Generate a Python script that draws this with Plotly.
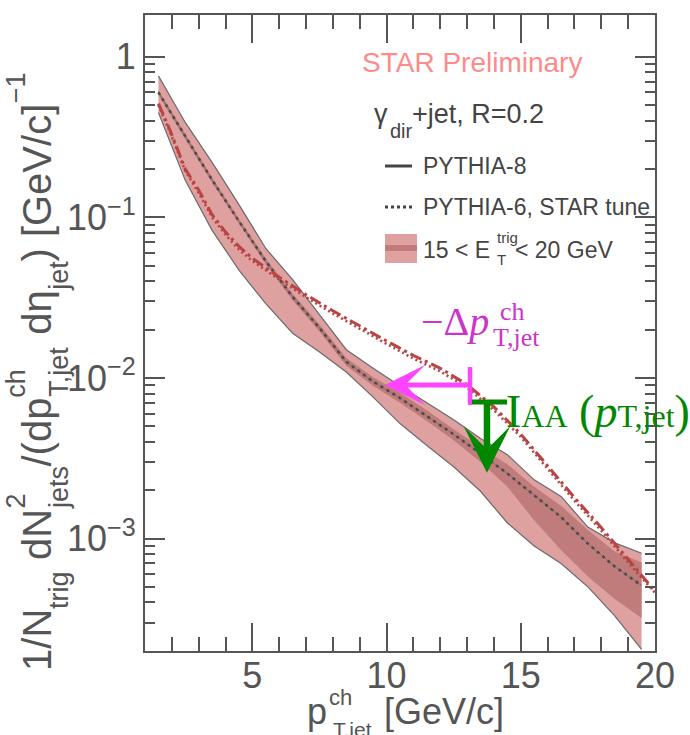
import plotly.graph_objects as go

# ---------------- data ----------------
x_bins = [1.5, 2.5, 3.5, 4.5, 5.5, 6.5, 7.5, 8.5, 9.5, 10.5, 11.5, 12.5, 13.5,
          14.5, 15.5, 16.5, 17.5, 18.5, 19.5]
band_hi = [0.76, 0.39, 0.22, 0.12, 0.064, 0.041, 0.0248, 0.0150, 0.0115, 0.0089,
           0.0070, 0.0055, 0.0042, 0.00333, 0.00232, 0.00183, 0.00118, 0.00094, 0.00081]
band_lo = [0.45, 0.17, 0.083, 0.047, 0.029, 0.019, 0.0145, 0.0109, 0.0076, 0.0052,
           0.0038, 0.0028, 0.00197, 0.00125, 0.0009, 0.0007, 0.0005, 0.00033, 0.000204]
dark_hi = [0.62, 0.33, 0.177, 0.098, 0.0555, 0.0335, 0.0215, 0.0133, 0.0101, 0.0081,
           0.0063, 0.0048, 0.0037, 0.0029, 0.0021, 0.0016, 0.00113, 0.00083, 0.00071]
dark_lo = [0.58, 0.305, 0.164, 0.091, 0.051, 0.0305, 0.0195, 0.0119, 0.0089, 0.0070,
           0.0054, 0.0041, 0.0030, 0.0021, 0.0013, 0.00085, 0.00058, 0.00042, 0.00032]
center = [0.60, 0.318, 0.171, 0.0946, 0.0533, 0.032, 0.0205, 0.0126, 0.0095, 0.0075,
          0.0058, 0.00446, 0.00338, 0.00254, 0.00186, 0.00136, 0.00093, 0.00067, 0.00051]

red_x = [1.5, 1.9, 2.5, 3.0, 3.5, 4.0, 4.5, 5, 6, 7, 8, 9, 10, 11, 12, 13, 14, 15,
         16, 17, 18, 19, 20]
red_dash_y = [0.51, 0.36, 0.20, 0.148, 0.104, 0.081, 0.066, 0.0556, 0.0424, 0.033,
              0.0262, 0.021, 0.017, 0.0138, 0.0115, 0.0091, 0.0066, 0.00447, 0.00282,
              0.0018, 0.00117, 0.00074, 0.00047]
red_dot_y = [0.50, 0.35, 0.195, 0.142, 0.100, 0.078, 0.063, 0.0535, 0.041, 0.0318,
             0.0252, 0.0202, 0.0163, 0.0132, 0.011, 0.0087, 0.0063, 0.0043, 0.0027,
             0.00172, 0.00112, 0.00071, 0.00046]

y_tickvals = [1, 0.1, 0.01, 0.001]
y_ticktext = ["1", "10<sup>\u22121</sup>", "10<sup>\u22122</sup>", "10<sup>\u22123</sup>"]
x_tickvals = [5, 10, 15, 20]

# arrow annotations (data coordinates, y in log10)
dpt_arrow = dict(x_tail=13.11, x_tip=9.94, logy=-2.043, bar_lo=-2.168, bar_hi=-1.932)
iaa_arrow = dict(x=13.74, logy_tail=-2.149, logy_tip=-2.59, bar_x0=13.18, bar_x1=14.49)

# ---------------- styles ----------------
SANS = "Liberation Sans"
SERIF = "Liberation Serif"
LIGHT = "#dfa0a0"
DARK = "#c07b7b"
RED = "#b84444"
AXC = "#555555"
TXT = "#444444"
MAG = "#ff44ff"
MAGT = "#cc33cc"
GRN = "#008800"

L, R, T, B = 145, 655, 15, 651
W, H = 690, 735


def P(xp, yp):
    return (xp - L) / (R - L), (B - yp) / (B - T)


fig = go.Figure()

fig.add_trace(go.Scatter(x=x_bins + x_bins[::-1], y=band_hi + band_lo[::-1],
                         fill="toself", fillcolor=LIGHT, line=dict(width=0),
                         mode="lines", hoverinfo="skip"))
fig.add_trace(go.Scatter(x=x_bins + x_bins[::-1], y=dark_hi + dark_lo[::-1],
                         fill="toself", fillcolor=DARK, line=dict(width=0),
                         mode="lines", hoverinfo="skip"))
for yy in (band_hi, band_lo):
    fig.add_trace(go.Scatter(x=x_bins, y=yy, mode="lines",
                             line=dict(color="#6a6a6a", width=1.2)))
fig.add_trace(go.Scatter(x=x_bins, y=center, mode="lines",
                         line=dict(color="#8a7070", width=1)))
fig.add_trace(go.Scatter(x=x_bins, y=center, mode="lines",
                         line=dict(color="#4a4a4a", width=2.5, dash="3px,4px")))
fig.add_trace(go.Scatter(x=red_x, y=red_dot_y, mode="lines",
                         line=dict(color=RED, width=2.6, dash="2px,3px")))
fig.add_trace(go.Scatter(x=red_x, y=red_dash_y, mode="lines",
                         line=dict(color=RED, width=3, dash="12px,4px,3px,4px")))

fig.add_trace(go.Scatter(x=[dpt_arrow["x_tail"]] * 2,
                         y=[10 ** dpt_arrow["bar_lo"], 10 ** dpt_arrow["bar_hi"]],
                         mode="lines", line=dict(color=MAG, width=4.5)))
fig.add_trace(go.Scatter(x=[iaa_arrow["bar_x0"], iaa_arrow["bar_x1"]],
                         y=[10 ** iaa_arrow["logy_tail"]] * 2,
                         mode="lines", line=dict(color=GRN, width=5)))

ann = []
ann.append(dict(x=dpt_arrow["x_tip"], y=dpt_arrow["logy"], ax=dpt_arrow["x_tail"],
                ay=dpt_arrow["logy"], xref="x", yref="y", axref="x", ayref="y",
                text="", showarrow=True, arrowhead=3, arrowsize=1.35, arrowwidth=5,
                arrowcolor=MAG))
ann.append(dict(x=iaa_arrow["x"], y=iaa_arrow["logy_tip"], ax=iaa_arrow["x"],
                ay=iaa_arrow["logy_tail"], xref="x", yref="y", axref="x", ayref="y",
                text="", showarrow=True, arrowhead=3, arrowsize=1.2, arrowwidth=6.5,
                arrowcolor=GRN))


def txt(s, xp, yp, size, color=TXT, family=SANS, xanchor="left", yanchor="middle",
        angle=0):
    px_, py_ = P(xp, yp)
    ann.append(dict(x=px_, y=py_, xref="paper", yref="paper", text=s, showarrow=False,
                    xanchor=xanchor, yanchor=yanchor, textangle=angle,
                    font=dict(family=family, size=size, color=color), borderpad=0))


# header texts
txt("STAR Preliminary", 361, 63, 28, color="#ff8a8a")
txt("\u03b3", 373, 114, 27)
txt("dir", 389, 131, 20)
txt("+jet, R=0.2", 411, 114, 27)
# legend
txt("PYTHIA-8", 422, 166, 23)
txt("PYTHIA-6, STAR tune", 422, 207, 23)
txt("15 < E", 422, 250, 23)
txt("trig", 496, 237, 15)
txt("T", 496, 259, 15)
txt("< 20 GeV", 514, 250, 23)

# physics labels
txt("\u2212\u0394<i>p</i>", 420, 321, 40, color=MAGT, family=SERIF)
txt("ch", 499, 312, 26, color=MAGT, family=SERIF)
txt("T,jet", 492, 338, 26, color=MAGT, family=SERIF)
txt("I<span style='font-size:32px'>AA</span> (<i>p</i><span style='font-size:32px'>T,jet</span>)",
    505, 411, 46, color=GRN, family=SERIF)

# x-axis title
txt("p", 306, 711, 36, color=AXC)
txt("ch", 328, 697, 22, color=AXC)
txt("T,jet", 332, 729, 21, color=AXC)
txt("[GeV/c]", 383, 711, 36, color=AXC)

# y-axis title (rotated pieces)
M, S = 40, 27
w = {"1/N": 1.556 * M, "trig": 1.389 * S, " dN": 1.556 * M, "jets": 1.556 * S,
     "/(dp": 1.723 * M, "T,jet": 1.945 * S, " d\u03b7": 1.39 * M, "jet": 1.056 * S,
     ") [GeV/c]": 3.946 * M, "\u22121": 1.14 * S}
xm, xs, xu = 37, 59, 16
pos = 671
pieces = [("1/N", M, xm), ("trig", S, xs), (" dN", M, xm), ("jets", S, xs),
          ("/(dp", M, xm), ("T,jet", S, xs), (" d\u03b7", M, xm), ("jet", S, xs),
          (") [GeV/c]", M, xm), ("\u22121", S, xu)]
for s, sz, xx in pieces:
    c = pos - w[s] / 2
    txt(s, xx, c, sz, color=AXC, xanchor="center", yanchor="middle", angle=-90)
    if s == "jets":
        txt("2", xu, pos - 0.556 * S / 2, S, color=AXC, xanchor="center",
            yanchor="middle", angle=-90)
    if s == "T,jet":
        txt("ch", xu, pos - 1.056 * S / 2, S, color=AXC, xanchor="center",
            yanchor="middle", angle=-90)
    pos -= w[s]

shapes = []
x0, y0 = P(385, 166); x1, _ = P(412, 166)
shapes.append(dict(type="line", xref="paper", yref="paper", x0=x0, x1=x1, y0=y0, y1=y0,
                   line=dict(color=TXT, width=3)))
x0, y0 = P(385, 207); x1, _ = P(412, 207)
shapes.append(dict(type="line", xref="paper", yref="paper", x0=x0, x1=x1, y0=y0, y1=y0,
                   line=dict(color=TXT, width=3, dash="3px,3px")))
bx0, by0 = P(385, 263); bx1, by1 = P(417, 234)
shapes.append(dict(type="rect", xref="paper", yref="paper", x0=bx0, x1=bx1, y0=by0,
                   y1=by1, fillcolor=LIGHT, line=dict(width=0)))
sx0, sy0 = P(385, 251); sx1, sy1 = P(417, 245)
shapes.append(dict(type="rect", xref="paper", yref="paper", x0=sx0, x1=sx1, y0=sy0,
                   y1=sy1, fillcolor=DARK, line=dict(width=0)))

minor_y = [k * 10.0 ** e for e in range(-4, 1) for k in range(2, 10)]

fig.update_layout(
    width=W, height=H, margin=dict(l=L, r=W - R, t=T, b=H - B),
    plot_bgcolor="white", paper_bgcolor="white", showlegend=False,
    annotations=ann, shapes=shapes,
    xaxis=dict(range=[1, 20], tickvals=x_tickvals, ticks="inside", ticklen=28,
               tickwidth=1.5, tickcolor=AXC, showline=True, linecolor=AXC, linewidth=2,
               mirror="allticks", showgrid=False, zeroline=False, ticklabelstandoff=-8,
               tickfont=dict(family=SANS, size=36, color=AXC),
               minor=dict(dtick=1, tick0=0, ticks="inside", ticklen=14, tickwidth=1.5,
                          tickcolor=AXC, showgrid=False)),
    yaxis=dict(type="log", range=[-3.70, 0.26], tickvals=y_tickvals,
               ticktext=y_ticktext, ticks="inside", ticklen=20, tickwidth=1.5,
               tickcolor=AXC, showline=True, linecolor=AXC, linewidth=2,
               mirror="allticks", showgrid=False, zeroline=False,
               tickfont=dict(family=SANS, size=36, color=AXC),
               minor=dict(tickmode="array", tickvals=minor_y, ticks="inside",
                          ticklen=10, tickwidth=1.5, tickcolor=AXC, showgrid=False)),
)

fig.write_html("out.html")
